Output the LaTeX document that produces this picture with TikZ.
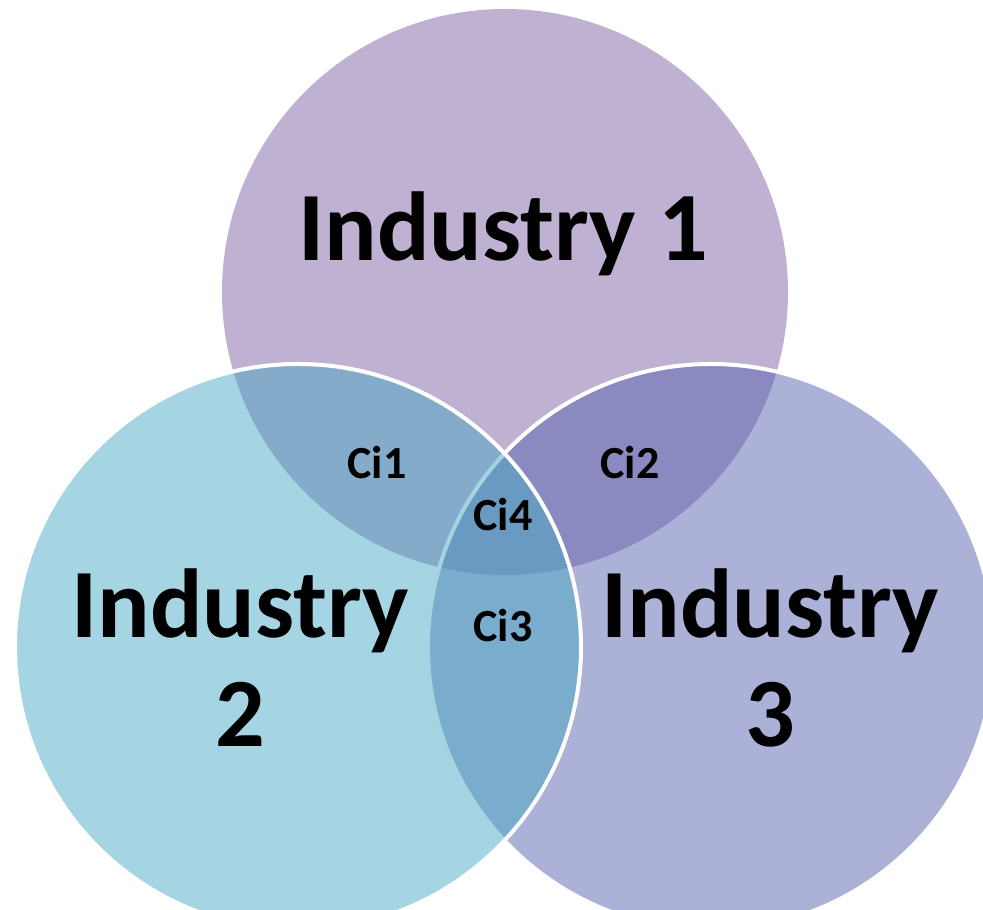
\documentclass[tikz,border=0pt]{standalone}
\usepackage{fontspec}
\setmainfont{Carlito}
\definecolor{indone}{HTML}{7F63A3}
\definecolor{indtwo}{HTML}{4BA9C5}
\definecolor{indthree}{HTML}{5763AF}
\tikzset{
  ring/.style={circle, inner sep=0pt, minimum size=566pt, fill opacity=0.5},
  bigtext/.style={font=\fontsize{98}{109}\selectfont\bfseries, align=center, anchor=base},
  smalltext/.style={font=\fontsize{46}{50}\selectfont\bfseries, anchor=base}
}
\begin{document}
\begin{tikzpicture}[x=1pt,y=1pt]
      \useasboundingbox (0,0) rectangle (983,910);
      \clip (0,0) rectangle (983,910);
      % the three sets, top one first
      \node[ring, fill=indone] (1) at (505,618) {};
      \node[ring, fill=indthree, draw=white, line width=4pt] (3) at (711,263) {};
      \node[ring, fill=indtwo, draw=white, line width=4pt] (2) at (298,263) {};
      % names (base = last line)
      \draw
        (503,649) node[bigtext] (n1) {Industry 1}
        (240,163) node[bigtext] (n2) {Industry\\2}
        (770,163) node[bigtext] (n3) {Industry\\3};
      \draw
        (377,431) node[smalltext] (ci1) {Ci1}
        (630,431) node[smalltext] (ci2) {Ci2}
        (503,379) node[smalltext] (ci4) {Ci4}
        (503,268) node[smalltext] (ci3) {Ci3};
    \end{tikzpicture}
\end{document}
